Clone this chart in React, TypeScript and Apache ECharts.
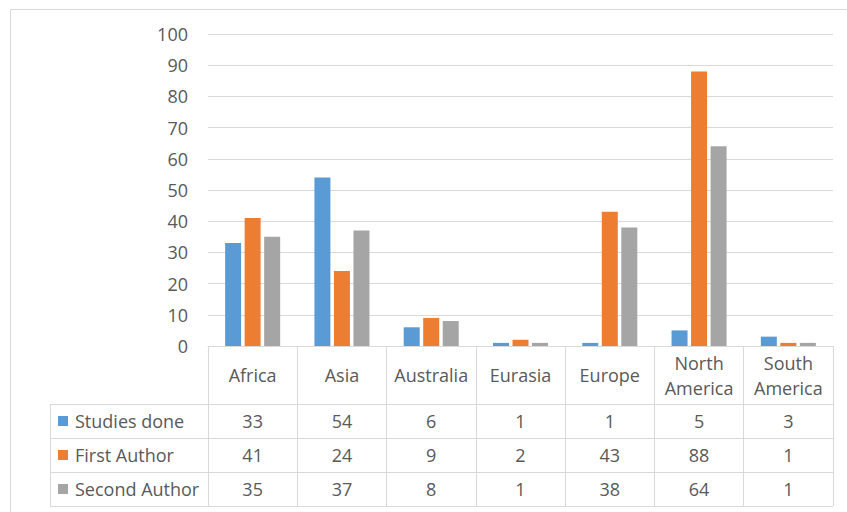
import React, { useEffect, useRef } from "react";
import * as echarts from "echarts";

const categories = ["Africa", "Asia", "Australia", "Eurasia", "Europe", "North\nAmerica", "South\nAmerica"];
const seriesNames = ["Studies done", "First Author", "Second Author"];
const studiesDone = [33, 54, 6, 1, 1, 5, 3];
const firstAuthor = [41, 24, 9, 2, 43, 88, 1];
const secondAuthor = [35, 37, 8, 1, 38, 64, 1];
const colors = ["#5B9BD5", "#ED7D31", "#A5A5A5"];
const yTicks = { min: 0, max: 100, interval: 10 };

const FONT = "'Open Sans'";
const FS = 18;
const TXT = "#595959";
const LINE = "#D9D9D9";

export default function App() {
  const ref = useRef<HTMLDivElement>(null);
  useEffect(() => {
    if (!ref.current) return;
    const chart = echarts.init(ref.current, null, { renderer: "svg" });
    const W = 847;
    const H = 512;
    const gridLeft = 208;
    const gridRight = 833;
    const gridTop = 34;
    const gridBottom = 346;
    const headerH = 58;
    const rowH = 34;
    const tableLeft = 50;
    const seriesData = [studiesDone, firstAuthor, secondAuthor];
    const rowTops = seriesData.map((_, i) => gridBottom + headerH + i * rowH);
    const tableBottom = gridBottom + headerH + seriesData.length * rowH;

    const graphics: any[] = [
      {
        type: "rect",
        shape: { x: 10.5, y: 9.5, width: W + 50, height: H + 50 },
        style: { fill: "none", stroke: LINE, lineWidth: 1 },
        silent: true,
      },
    ];
    const hl = [...rowTops, tableBottom];
    hl.forEach((y) => {
      graphics.push({
        type: "line",
        shape: { x1: tableLeft, y1: y + 0.5, x2: gridRight, y2: y + 0.5 },
        style: { stroke: LINE, lineWidth: 1 },
      });
    });
    graphics.push({
      type: "line",
      shape: { x1: tableLeft + 0.5, y1: rowTops[0], x2: tableLeft + 0.5, y2: tableBottom + 1 },
      style: { stroke: LINE, lineWidth: 1 },
    });
    seriesNames.forEach((name, i) => {
      const cy = rowTops[i] + rowH / 2;
      graphics.push({
        type: "rect",
        shape: { x: 58, y: cy - 5, width: 10, height: 10 },
        style: { fill: colors[i] },
      });
      graphics.push({
        type: "text",
        x: 75,
        y: cy,
        style: {
          text: name,
          fill: TXT,
          font: `${FS}px ${FONT}`,
          verticalAlign: "middle",
          align: "left",
        },
      });
    });

    const valueAxes = seriesData.map((vals, i) => ({
      type: "category",
      data: vals.map((v) => String(v)),
      position: "bottom",
      offset: rowTops[i] - gridBottom,
      axisLine: { show: false },
      axisTick: { show: false },
      splitLine: { show: false },
      axisLabel: {
        color: TXT,
        fontFamily: FONT,
        fontSize: FS,
        margin: rowH / 2,
        verticalAlign: "middle",
        interval: 0,
      },
    }));

    chart.setOption({
      animation: false,
      textStyle: { fontFamily: FONT },
      grid: {
        left: gridLeft,
        right: W - gridRight,
        top: gridTop,
        bottom: H - gridBottom,
        containLabel: false,
      },
      graphic: graphics,
      xAxis: [
        {
          type: "category",
          data: categories,
          position: "bottom",
          axisLine: { show: true, lineStyle: { color: LINE, width: 1 } },
          axisTick: {
            show: true,
            length: tableBottom - gridBottom,
            lineStyle: { color: LINE, width: 1 },
          },
          axisLabel: {
            color: TXT,
            fontFamily: FONT,
            fontSize: FS,
            margin: headerH / 2,
            verticalAlign: "middle",
            lineHeight: 25,
            interval: 0,
          },
        },
        ...valueAxes,
      ],
      yAxis: {
        type: "value",
        min: yTicks.min,
        max: yTicks.max,
        interval: yTicks.interval,
        axisLine: { show: false },
        axisTick: { show: false },
        splitLine: { lineStyle: { color: LINE, width: 1 } },
        axisLabel: { color: TXT, fontFamily: FONT, fontSize: FS, margin: 20 },
      },
      series: seriesData.map((d, i) => ({
        type: "bar",
        name: seriesNames[i],
        data: d,
        xAxisIndex: 0,
        barWidth: 16,
        barGap: "22%",
        itemStyle: { color: colors[i] },
      })),
    });
    return () => chart.dispose();
  }, []);
  return (
    <div
      ref={ref}
      style={{ position: "fixed", left: 0, top: 0, width: 847, height: 512, background: "#fff" }}
    />
  );
}
